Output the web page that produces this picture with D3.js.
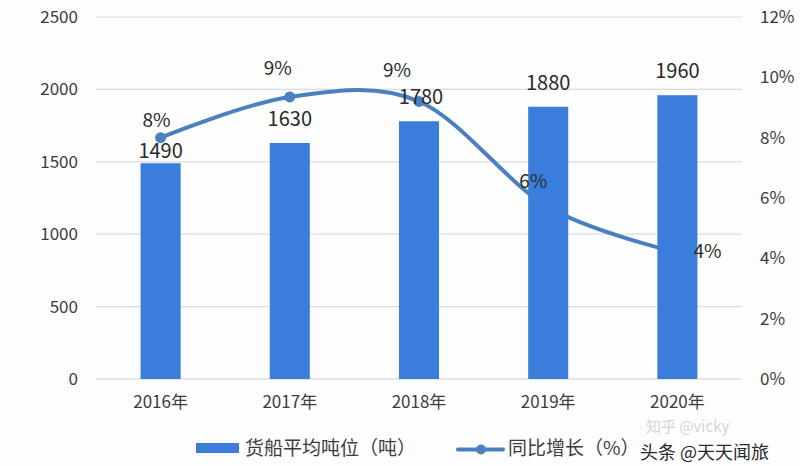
<!DOCTYPE html>
<html><head><meta charset="utf-8">
<script src="https://cdn.jsdelivr.net/npm/d3@7"></script>
<style>
html,body{margin:0;padding:0;background:#fdfdfd;}
text{font-family:"Noto Sans CJK SC","Noto Sans",sans-serif;}
</style></head>
<body><svg id="c" width="800" height="466"></svg>
<script>
const years = ["2016年","2017年","2018年","2019年","2020年"];
const tonnage = [1490,1630,1780,1880,1960];
const growth = [8.0,9.35,9.2,5.7,4.2];
const growthLabels = ["8%","9%","9%","6%","4%"];
const leftTicks = [0,500,1000,1500,2000,2500];
const rightTicks = [0,2,4,6,8,10,12];
const seriesNames = ["货船平均吨位（吨）","同比增长（%）"];

const svg = d3.select("#c");
const m = {l:96, r:742, t:17, b:379};
const x = d3.scaleBand().domain(years).range([m.l,m.r]).paddingInner(0.69).paddingOuter(0.345);
const yL = d3.scaleLinear().domain([0,2500]).range([m.b,m.t]);
const yR = d3.scaleLinear().domain([0,12]).range([m.b,m.t]);
const cx = d => x(d)+x.bandwidth()/2;
const txt = "#3c3c3c";

// gridlines
svg.append("g").selectAll("line").data(leftTicks).join("line")
  .attr("x1",m.l).attr("x2",m.r).attr("y1",d=>yL(d)).attr("y2",d=>yL(d))
  .attr("stroke",d=>d===0?"#cfcfcf":"#dcdcdc").attr("stroke-width",1.2);

// left axis
const gl = svg.append("g").attr("transform",`translate(${m.l-18},0)`)
  .call(d3.axisLeft(yL).tickValues(leftTicks).tickSize(0).tickPadding(0).tickFormat(d3.format("d")));
gl.select(".domain").remove();
gl.selectAll("text").attr("font-size",17).attr("fill",txt);

// right axis
const gr = svg.append("g").attr("transform",`translate(${m.r+18},0)`)
  .call(d3.axisRight(yR).tickValues(rightTicks).tickSize(0).tickPadding(0).tickFormat(d=>d+"%"));
gr.select(".domain").remove();
gr.selectAll("text").attr("font-size",17).attr("fill",txt);

// bottom axis
const gb = svg.append("g").attr("transform",`translate(0,${m.b+10})`)
  .call(d3.axisBottom(x).tickSize(0).tickPadding(0));
gb.select(".domain").remove();
gb.selectAll("text").attr("font-size",17).attr("fill",txt).attr("dy","1.1em");

// line (behind bars)
const line = d3.line().x((d,i)=>cx(years[i])).y(d=>yR(d)).curve(d3.curveCardinal.tension(0));
svg.append("path").datum(growth).attr("d",line).attr("fill","none")
  .attr("stroke","#4a80c0").attr("stroke-width",4).attr("stroke-linecap","round");
svg.append("g").selectAll("circle").data(growth).join("circle")
  .attr("cx",(d,i)=>cx(years[i])).attr("cy",d=>yR(d)).attr("r",5.5).attr("fill","#4a80c0");

// bars
const barColor = "#3a7ddb";
svg.append("g").selectAll("rect").data(tonnage).join("rect")
  .attr("x",(d,i)=>x(years[i])).attr("width",x.bandwidth())
  .attr("y",d=>yL(d)).attr("height",d=>m.b-yL(d)).attr("fill",barColor);

// bar labels
svg.append("g").selectAll("text").data(tonnage).join("text")
  .attr("x",(d,i)=>cx(years[i])+(i===2?2:0))
  .attr("y",(d,i)=>yL(d)-(i===0?5:17))
  .attr("text-anchor","middle").attr("font-size",20).attr("fill","#2a2a2a")
  .text(d=>d);

// growth labels
const gOff = [[-4,-11],[-12,-22],[-22,-24],[-15,-19],[30,6]];
svg.append("g").selectAll("text").data(growth).join("text")
  .attr("x",(d,i)=>cx(years[i])+gOff[i][0])
  .attr("y",(d,i)=>yR(d)+gOff[i][1])
  .attr("text-anchor","middle").attr("font-size",19).attr("fill","#2a2a2a")
  .text((d,i)=>growthLabels[i]);

// legend
const lg = svg.append("g");
lg.append("rect").attr("x",196).attr("y",443).attr("width",43).attr("height",10).attr("fill",barColor);
lg.append("text").attr("x",245).attr("y",455).attr("font-size",19).attr("fill",txt).text(seriesNames[0]);
lg.append("line").attr("x1",458).attr("x2",503).attr("y1",449.5).attr("y2",449.5)
  .attr("stroke","#4a80c0").attr("stroke-width",4).attr("stroke-linecap","round");
lg.append("circle").attr("cx",481).attr("cy",449.5).attr("r",5).attr("fill","#4a80c0");
lg.append("text").attr("x",508).attr("y",455).attr("font-size",19).attr("fill",txt).text(seriesNames[1]);

// watermarks
svg.append("text").attr("x",646).attr("y",432).attr("font-size",15).attr("fill","#d4d4d4").text("知乎 @vicky");
svg.append("text").attr("x",640).attr("y",459).attr("font-size",18).attr("fill","#2a2a2a")
  .attr("stroke","#ffffff").attr("stroke-width",0.6).attr("paint-order","stroke").text("头条 @天天闻旅");
</script></body></html>
